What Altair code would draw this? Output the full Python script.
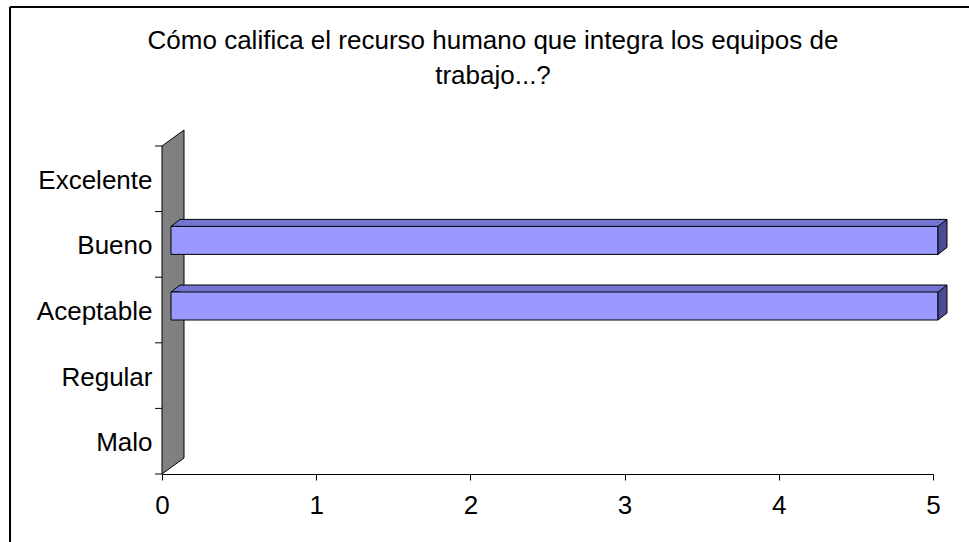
import altair as alt
import pandas as pd

# Survey answers: number of responses per rating
categories = ["Excelente", "Bueno", "Aceptable", "Regular", "Malo"]
counts = [0, 5, 5, 0, 0]
x_ticks = [0, 1, 2, 3, 4, 5]
title_lines = ["Cómo califica el recurso humano que integra los equipos de", "trabajo...?"]

# plot area and page layout (pixels)
W, H = 771, 328
PAD = {"left": 162, "top": 146, "right": 36, "bottom": 68}
FONT = "Liberation Sans"
FS = 26

# 3-D look: side wall depth and bar depth
WALL_DX, WALL_DY = 22, 16
BAR_DX, BAR_DY = 9, 7
BAR_H = 28
BAR_SHIFT = -4          # bar centre relative to the band centre
FRONT_L, FRONT_R = 9, 5   # horizontal shift of the bar front face

FRONT_COLOR = "#9999FF"
TOP_COLOR = "#7474D2"
SIDE_COLOR = "#4C4C96"
WALL_COLOR = "#808080"

df = pd.DataFrame({
    "categoria": categories,
    "valor": counts,
    "inicio": [0] * len(categories),
})
one = pd.DataFrame({"k": [0]})

x_scale = alt.Scale(domain=[0, 5], nice=False, zero=True)
y_scale = alt.Scale(type="band", domain=categories, paddingInner=0, paddingOuter=0)

x_axis = alt.Axis(values=x_ticks, title=None, grid=False, domainColor="black",
                  domainWidth=1, tickColor="black", tickSize=6, tickWidth=1,
                  labelFont=FONT, labelFontSize=FS, labelColor="black",
                  labelPadding=12, labelFlush=False, format="d")
y_axis = alt.Axis(title=None, domain=False, ticks=False, grid=False,
                  labelFont=FONT, labelFontSize=FS, labelColor="black",
                  labelPadding=10, labelOffset=2)


def xq(field):
    return alt.X(field, type="quantitative", scale=x_scale, axis=x_axis)


def yc(band=None):
    if band is None:
        return alt.Y("categoria:N", scale=y_scale, axis=y_axis)
    return alt.Y("categoria:N", scale=y_scale, axis=y_axis, bandPosition=band)


base = alt.Chart(df)
bars = base.transform_filter("datum.valor > 0")

# outer frame (left and top edges)
frame_left = alt.Chart(one).mark_rule(color="black", strokeWidth=2).encode(
    x=alt.value(10 - PAD["left"]), y=alt.value(7 - PAD["top"]),
    y2=alt.value(H + PAD["bottom"]))
frame_top = alt.Chart(one).mark_rule(color="black", strokeWidth=2).encode(
    x=alt.value(10 - PAD["left"]), x2=alt.value(W + PAD["right"]),
    y=alt.value(7 - PAD["top"]))

# chart title
title = alt.Chart(one).mark_text(
    text=title_lines, font=FONT, fontSize=FS, color="black", align="center",
    baseline="alphabetic", lineHeight=35).encode(
    x=alt.value(493 - PAD["left"]), y=alt.value(49 - PAD["top"]))

# grey side wall behind the category axis
wall_path = (f"M0,0 L0,{-H} L{WALL_DX},{-H - WALL_DY} "
             f"L{WALL_DX},{-WALL_DY} Z")
wall = alt.Chart(one).mark_point(
    shape=wall_path, size=4, filled=True, fill=WALL_COLOR, stroke="black",
    strokeWidth=1, opacity=1).encode(x=alt.value(0), y=alt.value(H))

# category tick marks on band boundaries
ticks = base.mark_rule(color="black", strokeWidth=1).encode(
    y=yc(0), x=alt.value(-7), x2=alt.value(0))
tick_last = base.transform_filter(f"datum.categoria == '{categories[-1]}'").mark_rule(
    color="black", strokeWidth=1).encode(
    y=yc(1), x=alt.value(-7), x2=alt.value(0))

top_front = BAR_SHIFT - BAR_H / 2
top_back = top_front - BAR_DY
bottom_front = BAR_SHIFT + BAR_H / 2
bottom_back = bottom_front - BAR_DY

# top face of each bar
top_rect = bars.mark_bar(size=BAR_DY, fill=TOP_COLOR, strokeWidth=0,
                         xOffset=FRONT_L + BAR_DX, x2Offset=FRONT_R + BAR_DX,
                         yOffset=top_front - BAR_DY / 2).encode(
    x=xq("inicio"), x2="valor:Q", y=yc())

left_path = (f"M{FRONT_L + BAR_DX},{top_front} L{FRONT_L},{top_front} "
             f"L{FRONT_L + BAR_DX},{top_back}")
top_left = bars.mark_point(shape=left_path, size=4, filled=True, fill=TOP_COLOR,
                           stroke="black", strokeWidth=1, opacity=1).encode(
    x=xq("inicio"), y=yc())

# front face of each bar
front = bars.mark_bar(size=BAR_H, fill=FRONT_COLOR, stroke="black", strokeWidth=1,
                      xOffset=FRONT_L, x2Offset=FRONT_R, yOffset=BAR_SHIFT).encode(
    x=xq("inicio"), x2="valor:Q", y=yc())

# right end face of each bar
side_path = (f"M{FRONT_R},{top_front} L{FRONT_R + BAR_DX},{top_back} "
             f"L{FRONT_R + BAR_DX},{bottom_back} L{FRONT_R},{bottom_front} Z")
side = bars.mark_point(shape=side_path, size=4, filled=True, fill=SIDE_COLOR,
                       stroke="black", strokeWidth=1, opacity=1).encode(
    x=xq("valor"), y=yc())

# back edge of the top face
back_edge = bars.mark_rule(color="black", strokeWidth=1,
                           xOffset=FRONT_L + BAR_DX, x2Offset=FRONT_R + BAR_DX,
                           yOffset=top_back, y2Offset=top_back).encode(
    x=xq("inicio"), x2="valor:Q", y=yc(0.5))

chart = alt.layer(
    frame_left, frame_top, title, wall, ticks, tick_last,
    top_rect, top_left, front, side, back_edge,
).properties(
    width=W, height=H,
    autosize=alt.AutoSizeParams(type="none"),
    padding=PAD,
    background="white",
).configure_view(stroke=None)

chart.save("out.html", embed_options={"renderer": "svg", "actions": False})
